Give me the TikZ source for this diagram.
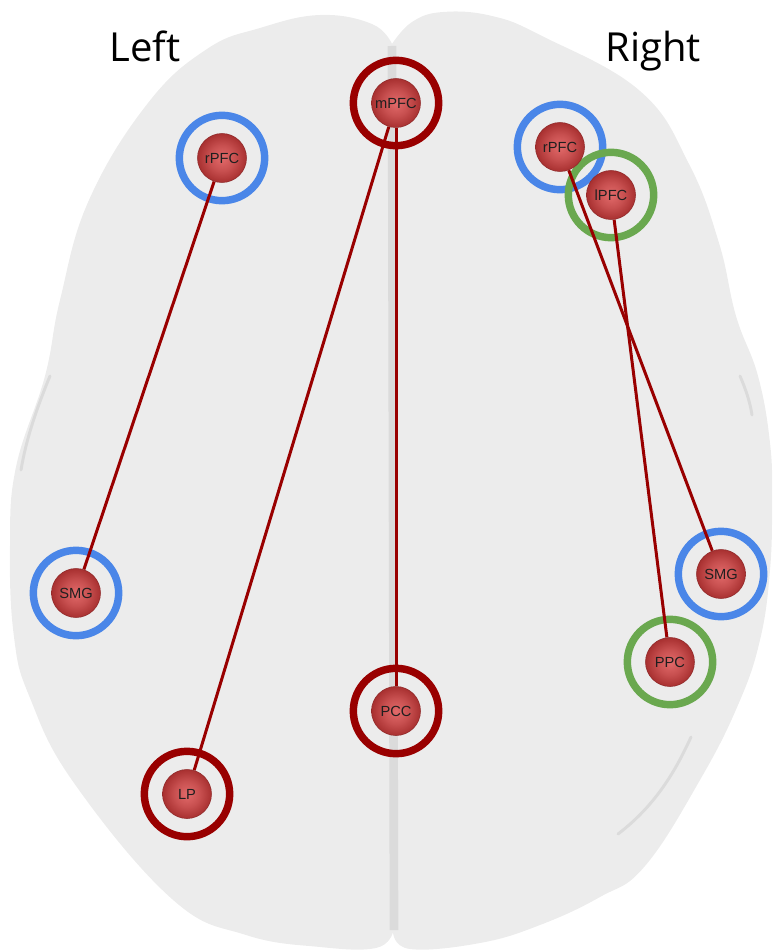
\documentclass[tikz,border=0pt]{standalone}
\usepackage{fontspec}
\setmainfont{Liberation Sans}
\newfontfamily\headfont{Open Sans}
\usetikzlibrary{positioning}

\definecolor{brainfill}{HTML}{ECECEC}
\definecolor{sulcus}{HTML}{DBDBDB}
\definecolor{linkred}{HTML}{990000}
\definecolor{ringblue}{HTML}{4A86E8}
\definecolor{ringgreen}{HTML}{6AA84F}
\definecolor{ballin}{HTML}{E26A6A}
\definecolor{ballout}{HTML}{A83030}

\pgfdeclareradialshading{ballshade}{\pgfpoint{0bp}{0bp}}{%
  color(0bp)=(ballin); color(13bp)=(ballin!55!ballout);
  color(25bp)=(ballout); color(50bp)=(ballout)}

\pgfdeclarelayer{brain}
\pgfdeclarelayer{links}
\pgfsetlayers{brain,links,main}

\tikzset{
  region/.style={circle, minimum size=36.75pt, inner sep=0pt,
    shading=ballshade, draw=ballout!85!black, line width=0.4pt,
    font=\fontsize{11}{11}\selectfont, text=black!88},
  ring/.style={line width=5.6pt},
  link/.style={linkred, line width=2.25pt},
  side/.style={font=\headfont\fontsize{30}{36}\selectfont, anchor=base},
}

\begin{document}
\begin{tikzpicture}[x=0.75pt, y=-0.75pt]
    \useasboundingbox (0,0) rectangle (772,952);
    \def\r{32pt}
    % regions
    \node[region] (rPFC_L) at (222,158) {rPFC};
    \node[region] (SMG_L) at (76,593) {SMG};
    \node[region] (mPFC) at (396,103) {mPFC};
    \node[region] (LP) at (187,794) {LP};
    \node[region] (PCC) at (396,711) {PCC};
    \node[region] (rPFC_R) at (560,147) {rPFC};
    \node[region] (lPFC) at (611,195) {lPFC};
    \node[region] (SMG_R) at (721,574) {SMG};
    \node[region] (PPC) at (670,662) {PPC};
    \node[side] (left) at (145,62) {Left};
    \node[side] (right) at (653,62) {Right};
    % hemispheres
    \begin{pgfonlayer}{brain}
    \fill[brainfill] plot[smooth, tension=0.7] coordinates {(392,44) (372,24)
      (320,15) (260,28) (207,49) (148,103) (89,200) (60,300) (45,376)
      (16,467) (10,546) (14,637) (30,698) (74,783) (172,899) (246,935)
      (320,947) (376,948) (393,932)} -- cycle;
    \fill[brainfill] plot[smooth, tension=0.7] coordinates {(392,44) (412,22)
      (443,12) (492,16) (542,36) (640,91) (689,164) (719,243) (736,316)
      (758,376) (770,443) (772,500) (770,570) (760,640) (738,705)
      (700,780) (645,866) (600,897) (540,925) (480,943) (410,949)
      (393,932)} -- cycle;
    \draw[sulcus, line width=6.5pt] (392,46) -- (394,930);
    \draw[sulcus, line width=2.2pt, line cap=round]
      (50,376) .. controls (36,410) and (26,440) .. (21,470);
    \draw[sulcus, line width=2.2pt, line cap=round]
      (740,376) .. controls (746,390) and (750,402) .. (752,415);
    \draw[sulcus, line width=2.2pt, line cap=round]
      (691,737) .. controls (676,770) and (656,805) .. (618,834);
    \end{pgfonlayer}
    % rings and links
    \begin{pgfonlayer}{links}
    \foreach \n/\c in {rPFC_L/ringblue, SMG_L/ringblue, rPFC_R/ringblue,
        SMG_R/ringblue, lPFC/ringgreen, PPC/ringgreen,
        mPFC/linkred, PCC/linkred, LP/linkred}
      \draw[ring, \c] (\n.center) circle[radius=\r];
    \path (rPFC_L) edge [link] (SMG_L);
    \path (mPFC) edge [link] (LP);
    \path (mPFC) edge [link] (PCC);
    \path (rPFC_R) edge [link] (SMG_R);
    \path (lPFC) edge [link] (PPC);
    \end{pgfonlayer}
\end{tikzpicture}
\end{document}
